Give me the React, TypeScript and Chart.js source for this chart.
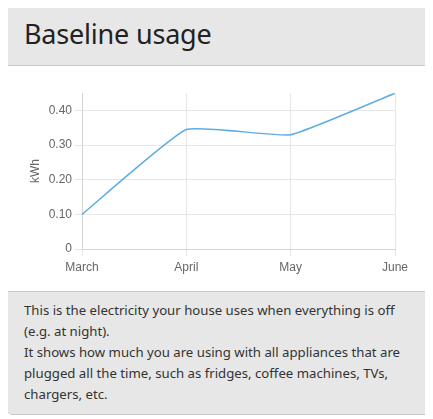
import { useEffect, useRef } from "react"
import { Chart, registerables } from "chart.js"

Chart.register(...registerables)

const months = ["March", "April", "May", "June"]
const baseline = [0.1, 0.345, 0.33, 0.45]
const yTicks = [0, 0.1, 0.2, 0.3, 0.4]

function BaselineChart() {
  const chartRef = useRef<HTMLCanvasElement>(null)
  const chartInstance = useRef<Chart | null>(null)

  useEffect(() => {
    if (!chartRef.current) return
    if (chartInstance.current) chartInstance.current.destroy()

    const ctx = chartRef.current.getContext("2d")
    if (!ctx) return

    const font = { family: "'Liberation Sans', Arial, sans-serif", size: 12 }

    chartInstance.current = new Chart(ctx, {
      type: "line",
      data: {
        labels: months,
        datasets: [
          {
            label: "Baseline",
            data: baseline,
            borderColor: "#5dade2",
            borderWidth: 1.5,
            tension: 0.12,
            fill: false,
            pointRadius: 0,
          },
        ],
      },
      options: {
        animation: false,
        responsive: true,
        maintainAspectRatio: false,
        layout: { padding: { top: 10, right: 18 } },
        plugins: {
          legend: { display: false },
          tooltip: { enabled: false },
        },
        scales: {
          x: {
            grid: { color: "#e6e6e6", tickLength: 7 },
            border: { color: "#d4d4d4" },
            ticks: { color: "#666", font, padding: 4, maxRotation: 0 },
            afterFit: (axis) => {
              axis.height = 26
            },
          },
          y: {
            min: 0,
            max: 0.45,
            grid: { color: "#e6e6e6", tickLength: 7 },
            border: { color: "#d4d4d4" },
            afterBuildTicks: (axis) => {
              axis.ticks = yTicks.map((value) => ({ value }))
            },
            afterFit: (axis) => {
              axis.width = 58
            },
            ticks: {
              color: "#666",
              font,
              padding: 3,
              callback: (value) => (Number(value) === 0 ? "0" : Number(value).toFixed(2)),
            },
            title: { display: true, text: "kWh", color: "#666", font },
          },
        },
      },
    })

    return () => {
      if (chartInstance.current) {
        chartInstance.current.destroy()
        chartInstance.current = null
      }
    }
  }, [])

  return (
    <div style={{ position: "relative", height: 192 }}>
      <canvas ref={chartRef}></canvas>
    </div>
  )
}

export default function App() {
  const cardFont = "'Noto Sans', 'Open Sans', sans-serif"
  return (
    <div
      style={{
        position: "relative",
        left: -1,
        top: -1,
        width: 421,
        border: "1px solid #c8c8c8",
        borderRadius: 5,
        overflow: "hidden",
        fontFamily: cardFont,
        color: "#222",
      }}
    >
      <div
        style={{
          background: "#e7e7e7",
          height: 58,
          boxSizing: "border-box",
          borderBottom: "1px solid #c8c8c8",
          padding: "0 16px 7px",
          display: "flex",
          alignItems: "center",
        }}
      >
        <h3 style={{ margin: 0, fontSize: 27, fontWeight: 400, letterSpacing: -0.2 }}>Baseline usage</h3>
      </div>
      <div style={{ background: "#fff", padding: 16, paddingTop: 17 }}>
        <BaselineChart />
      </div>
      <div
        style={{
          background: "#e7e7e7",
          borderTop: "1px solid #c8c8c8",
          padding: "8px 16px",
          fontSize: 13.2,
          lineHeight: "21px",
          color: "#333",
          height: 106,
        }}
      >
        This is the electricity your house uses when everything is off
        <br />
        (e.g. at night).
        <br />
        It shows how much you are using with all appliances that are
        <br />
        plugged all the time, such as fridges, coffee machines, TVs,
        <br />
        chargers, etc.
      </div>
    </div>
  )
}
